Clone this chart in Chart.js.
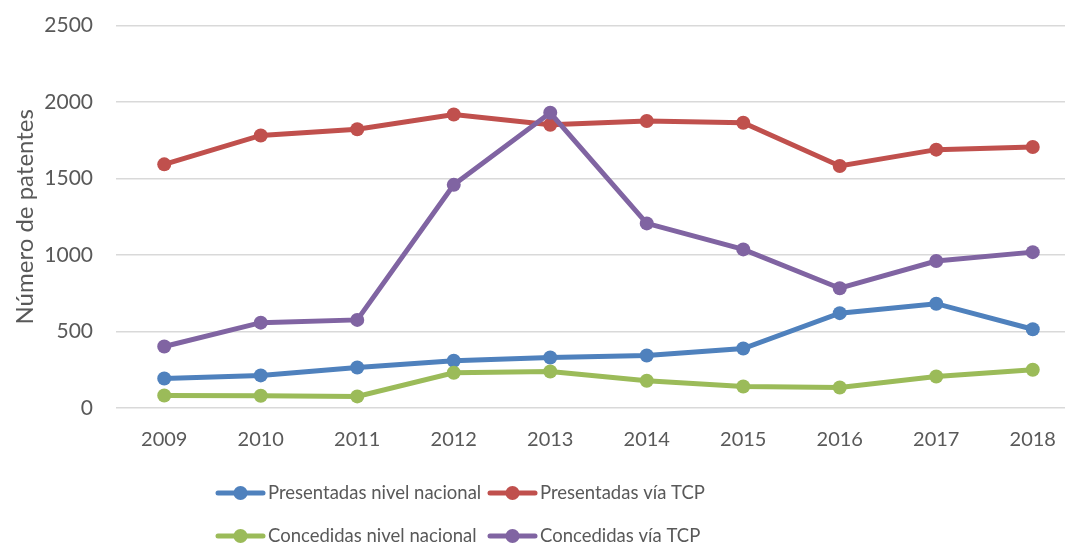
<!DOCTYPE html>
<html>
<head>
<meta charset="utf-8">
<script src="https://cdn.jsdelivr.net/npm/chart.js@4/dist/chart.umd.min.js"></script>
<style>
  html, body { margin: 0; padding: 0; background: #fff; overflow: hidden; }
  #wrap { position: relative; width: 1065px; height: 546px; overflow: hidden; }
  #c { position: absolute; left: 0; top: -10px; }
</style>
</head>
<body>
<div id="wrap"><canvas id="c" width="1088" height="556"></canvas></div>
<script>
const years = ['2009','2010','2011','2012','2013','2014','2015','2016','2017','2018'];
const presentadasNacional = [193, 213, 265, 309, 330, 343, 389, 620, 682, 515];
const presentadasTCP      = [1593, 1782, 1822, 1919, 1852, 1876, 1865, 1582, 1689, 1706];
const concedidasNacional  = [82, 80, 76, 230, 239, 178, 141, 134, 206, 250];
const concedidasTCP       = [402, 558, 576, 1459, 1930, 1207, 1037, 783, 961, 1019];
const seriesNames = ['Presentadas nivel nacional', 'Presentadas vía TCP', 'Concedidas nivel nacional', 'Concedidas vía TCP'];
const yTicks = [0, 500, 1000, 1500, 2000, 2500];
const yTitle = 'Número de patentes';

const colors = ['#4f81bd', '#c0504d', '#9bbb59', '#8064a2'];
const drawOrder = [3, 2, 1, 0];
const FONT = "Lato, 'Open Sans', sans-serif";
const TXT = '#595959';

function ds(i, data) {
  return {
    label: seriesNames[i], data,
    borderColor: colors[i], backgroundColor: colors[i],
    pointBackgroundColor: colors[i], pointBorderColor: colors[i],
    borderWidth: 5, pointRadius: 7, pointHoverRadius: 7, pointBorderWidth: 0,
    tension: 0, order: drawOrder[i]
  };
}

const legendPlugin = {
  id: 'lineLegend',
  afterDraw(chart) {
    const ctx = chart.ctx;
    const cols = [218, 490];
    const base = chart.chartArea.bottom;
    const rows = [base + 85, base + 128];
    ctx.save();
    ctx.font = "18.5px " + FONT;
    ctx.textBaseline = 'middle';
    ctx.textAlign = 'left';
    chart.data.datasets.forEach((d, i) => {
      const x = cols[i % 2], y = rows[Math.floor(i / 2)];
      ctx.strokeStyle = d.borderColor;
      ctx.lineWidth = 5;
      ctx.lineCap = 'round';
      ctx.beginPath(); ctx.moveTo(x, y); ctx.lineTo(x + 45, y); ctx.stroke();
      ctx.fillStyle = d.borderColor;
      ctx.beginPath(); ctx.arc(x + 22.5, y, 7, 0, Math.PI * 2); ctx.fill();
      ctx.fillStyle = TXT;
      ctx.fillText(d.label, x + 50, y);
    });
    ctx.restore();
  }
};

new Chart(document.getElementById('c'), {
  type: 'line',
  data: {
    labels: years,
    datasets: [
      ds(0, presentadasNacional),
      ds(1, presentadasTCP),
      ds(2, concedidasNacional),
      ds(3, concedidasTCP)
    ]
  },
  options: {
    responsive: false,
    animation: false,
    layout: { padding: { top: 8, bottom: 90, left: 0, right: 4 } },
    plugins: { legend: { display: false }, tooltip: { enabled: false } },
    scales: {
      x: {
        offset: true,
        grid: { display: false, drawTicks: false },
        border: { display: false },
        ticks: { color: TXT, font: { family: FONT, size: 20 }, padding: 20, maxRotation: 0 },
        afterFit(s) { s.height = 48; }
      },
      y: {
        min: 0, max: 2500,
        afterBuildTicks(s) { s.ticks = yTicks.map(v => ({ value: v })); },
        grid: { color: '#d9d9d9', lineWidth: 1.5, drawTicks: false },
        border: { display: false },
        ticks: { color: TXT, font: { family: FONT, size: 21 }, padding: 23, callback: v => String(v) },
        title: { display: true, text: yTitle, color: TXT, font: { family: FONT, size: 24 }, padding: { top: 11, bottom: 0 } },
        afterFit(s) { s.width = 116; }
      }
    }
  },
  plugins: [legendPlugin]
});
</script>
</body>
</html>
